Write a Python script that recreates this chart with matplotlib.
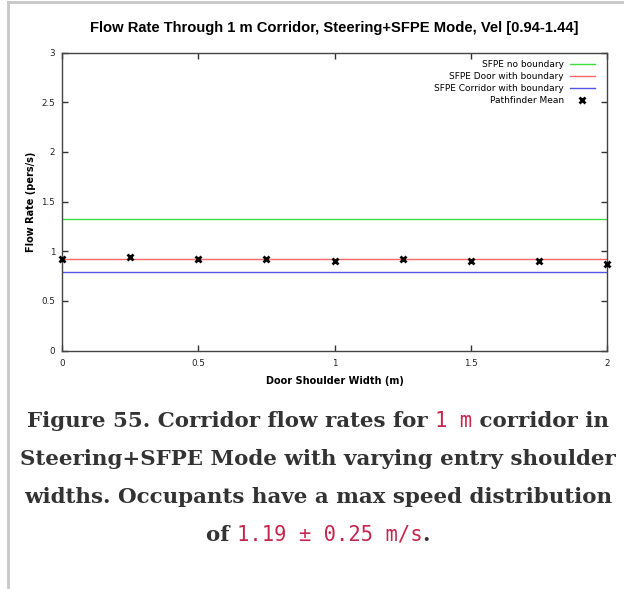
import matplotlib
matplotlib.use('Agg')
import matplotlib.pyplot as plt
from matplotlib.lines import Line2D

# Pathfinder results: door shoulder width (m) vs mean flow rate (pers/s)
widths = [0.0, 0.25, 0.5, 0.75, 1.0, 1.25, 1.5, 1.75, 2.0]
pathfinder_mean = [0.919, 0.942, 0.919, 0.919, 0.902, 0.919, 0.902, 0.902, 0.875]

# SFPE hand-calculation reference flows (pers/s)
sfpe_no_boundary = 1.32
sfpe_door_boundary = 0.92
sfpe_corridor_boundary = 0.79

x_ticks = [0, 0.5, 1, 1.5, 2]
y_ticks = [0, 0.5, 1, 1.5, 2, 2.5, 3]

TITLE = 'Flow Rate Through 1 m Corridor, Steering+SFPE Mode, Vel [0.94-1.44]'
CAPTION = [
    [('Figure 55. Corridor flow rates for ', False), ('1 m', True), (' corridor in', False)],
    [('Steering+SFPE Mode with varying entry shoulder', False)],
    [('widths. Occupants have a max speed distribution', False)],
    [('of ', False), ('1.19 \u00b1 0.25 m/s', True), ('.', False)],
]

W, H = 624, 589
fig = plt.figure(figsize=(W / 100, H / 100), dpi=100)

# page frame on the left and top
fig.add_artist(Line2D([7.5 / W, 7.5 / W], [0, 1 - 2 / H], color='#c8c8c8', lw=2))
fig.add_artist(Line2D([7.5 / W, 1], [1 - 2 / H, 1 - 2 / H], color='#c8c8c8', lw=2))

ax = fig.add_axes([62 / W, 1 - 350.7 / H, (607 - 62) / W, (350.7 - 52.5) / H])

x0, x1 = widths[0], widths[-1]
ax.plot([x0, x1], [sfpe_no_boundary] * 2, color='#3ee03e', lw=1, label='SFPE no boundary')
ax.plot([x0, x1], [sfpe_door_boundary] * 2, color='#ff6666', lw=1, label='SFPE Door with boundary')
ax.plot([x0, x1], [sfpe_corridor_boundary] * 2, color='#5555ee', lw=1, label='SFPE Corridor with boundary')
ax.plot(widths, pathfinder_mean, ls='none', marker='x', ms=5, mew=2, color='black',
        label='Pathfinder Mean', clip_on=False, zorder=5)

ax.set_xlim(0, 2)
ax.set_ylim(0, 3)
ax.set_xticks(x_ticks)
ax.set_yticks(y_ticks)
ax.set_xticklabels([f'{t:g}' for t in x_ticks])
ax.set_yticklabels([f'{t:g}' for t in y_ticks])
ax.tick_params(direction='in', length=4, width=1, color='#333333', labelsize=6.3,
               top=True, right=True, pad=6, labelcolor='#222222')
ax.tick_params(axis='y', pad=5)
for sp in ax.spines.values():
    sp.set_color('#444444')
    sp.set_linewidth(1)

ax.set_title(TITLE, fontsize=10.6, fontweight='bold', family='Liberation Sans', pad=15)
ax.set_xlabel('Door Shoulder Width (m)', fontsize=7, fontweight='bold', labelpad=6)
ax.set_ylabel('Flow Rate (pers/s)', fontsize=7, fontweight='bold', labelpad=4)

ax.legend(loc='upper right', bbox_to_anchor=(1 - 5 / 545, 1), frameon=False,
          markerfirst=False, fontsize=6.5, handlelength=2.8, handletextpad=0.6,
          labelspacing=0.35, borderaxespad=0.4)

# caption: bold serif text with monospace code fragments
renderer = fig.canvas.get_renderer()
line_y = [427, 465, 503, 541]
for segs, ypx in zip(CAPTION, line_y):
    texts = []
    for s, code in segs:
        if code:
            t = fig.text(0, 1 - ypx / H, s, fontsize=14.8, family='DejaVu Sans Mono',
                         color='#c7254e', va='baseline')
        else:
            t = fig.text(0, 1 - ypx / H, s, fontsize=15.4, family='DejaVu Serif',
                         fontweight='bold', color='#333333', va='baseline')
        texts.append(t)
    widths_px = [t.get_window_extent(renderer).width for t in texts]
    total = sum(widths_px)
    xpos = 318 - total / 2
    for t, w in zip(texts, widths_px):
        t.set_x(xpos / W)
        xpos += w

fig.savefig('out.png', dpi=100)
